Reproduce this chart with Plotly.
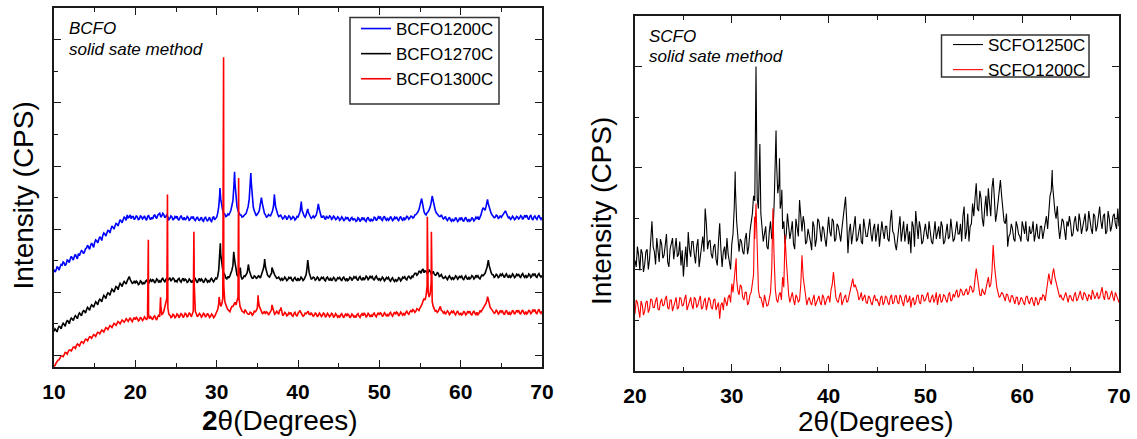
import numpy as np
import plotly.graph_objects as go

# ---------------- BCFO panel (2theta 10-70, arbitrary intensity units) -------------
bcfo_start, bcfo_stop, bcfo_step = 10.0, 70.0, 0.25

# readings on the 0.25-degree grid
bcfo1200_base = [
    2.72, 2.70, 2.78, 2.80,  2.86, 2.93, 2.90, 3.00,  3.05, 3.08, 3.13, 3.12,
    3.22, 3.25, 3.30, 3.28,  3.40, 3.43, 3.48, 3.50,  3.58, 3.63, 3.66, 3.72,
    3.80, 3.85, 3.88, 3.95,  4.00, 4.06, 4.10, 4.16,  4.20, 4.26, 4.30, 4.35,
    4.45, 4.38, 4.33, 4.40,  4.35, 4.38, 4.32, 4.40,  4.36, 4.33, 4.39, 4.35,
    4.37, 4.41, 4.38, 4.44,  4.50, 4.42, 4.46, 4.40,  4.38, 4.34, 4.39, 4.33,
    4.36, 4.32, 4.37, 4.35,  4.38, 4.33, 4.36, 4.31,  4.35, 4.30, 4.34, 4.31,
    4.33, 4.28, 4.34, 4.30,  4.32, 4.27, 4.35, 4.30,  4.38, 4.70, 4.95, 4.58,
    4.48, 4.42, 4.45, 4.60,  4.90, 5.45, 4.72, 4.52,  4.45, 4.40, 4.47, 4.58,
    4.95, 5.50, 4.70, 4.50,  4.48, 4.60, 5.00, 4.58,  4.45, 4.40, 4.43, 4.50,
    4.75, 4.70, 4.48, 4.42,  4.38, 4.35, 4.40, 4.36,  4.39, 4.34, 4.37, 4.33,
    4.38, 4.55, 4.60, 4.42,  4.45, 4.55, 4.40, 4.38,  4.36, 4.45, 4.80, 4.45,
    4.38, 4.36, 4.42, 4.35,  4.40, 4.34, 4.38, 4.32,  4.36, 4.31, 4.35, 4.30,
    4.33, 4.29, 4.34, 4.28,  4.32, 4.27, 4.33, 4.29,  4.31, 4.27, 4.34, 4.29,
    4.33, 4.28, 4.36, 4.31,  4.35, 4.30, 4.37, 4.32,  4.36, 4.31, 4.35, 4.30,
    4.34, 4.30, 4.36, 4.31,  4.37, 4.33, 4.38, 4.35,  4.40, 4.38, 4.46, 4.55,
    4.75, 4.90, 4.55, 4.45,  4.55, 4.70, 5.05, 4.70,  4.52, 4.45, 4.40, 4.38,
    4.35, 4.31, 4.34, 4.29,  4.33, 4.28, 4.32, 4.27,  4.31, 4.28, 4.33, 4.29,
    4.32, 4.28, 4.33, 4.30,  4.34, 4.30, 4.45, 4.68,  4.60, 4.85, 4.70, 4.50,
    4.42, 4.38, 4.42, 4.36,  4.38, 4.45, 4.58, 4.42,  4.38, 4.34, 4.37, 4.33,
    4.38, 4.35, 4.40, 4.36,  4.39, 4.35, 4.40, 4.34,  4.38, 4.35, 4.39, 4.36,
    4.37,
]
# readings half-way between grid points (x + 0.125)
bcfo1200_mid = [
    2.64, 2.80, 2.70, 2.88,  2.96, 2.84, 3.02, 2.94,  3.14, 3.02, 3.20, 3.06,
    3.16, 3.32, 3.22, 3.38,  3.49, 3.36, 3.56, 3.42,  3.66, 3.56, 3.76, 3.64,
    3.88, 3.78, 3.96, 3.88,  4.10, 4.00, 4.18, 4.10,  4.30, 4.20, 4.38, 4.28,
    4.36, 4.45, 4.40, 4.30,  4.43, 4.30, 4.42, 4.32,  4.42, 4.28, 4.44, 4.30,
    4.32, 4.46, 4.34, 4.48,  4.38, 4.50, 4.36, 4.45,  4.30, 4.42, 4.29, 4.40,
    4.41, 4.28, 4.43, 4.29,  4.29, 4.40, 4.28, 4.38,  4.40, 4.27, 4.39, 4.26,
    4.38, 4.25, 4.39, 4.25,  4.38, 4.24, 4.40, 4.33,  4.50, 5.10, 4.70, 4.50,
    4.40, 4.48, 4.52, 4.75,  5.40, 5.00, 4.58, 4.45,  4.38, 4.46, 4.50, 4.72,
    5.45, 5.05, 4.58, 4.42,  4.52, 4.75, 4.80, 4.50,  4.38, 4.46, 4.42, 4.58,
    5.00, 4.55, 4.40, 4.44,  4.32, 4.42, 4.30, 4.42,  4.31, 4.40, 4.29, 4.40,
    4.45, 4.80, 4.48, 4.38,  4.58, 4.45, 4.34, 4.42,  4.40, 4.60, 4.62, 4.38,
    4.43, 4.30, 4.36, 4.42,  4.31, 4.41, 4.30, 4.39,  4.28, 4.39, 4.26, 4.37,
    4.38, 4.25, 4.37, 4.33,  4.25, 4.36, 4.24, 4.37,  4.36, 4.24, 4.38, 4.26,
    4.26, 4.38, 4.27, 4.39,  4.40, 4.27, 4.41, 4.28,  4.28, 4.40, 4.27, 4.38,
    4.39, 4.27, 4.40, 4.28,  4.30, 4.42, 4.31, 4.41,  4.35, 4.45, 4.50, 4.62,
    4.88, 4.70, 4.48, 4.52,  4.62, 4.85, 4.90, 4.60,  4.48, 4.40, 4.45, 4.32,
    4.40, 4.27, 4.38, 4.25,  4.26, 4.37, 4.24, 4.36,  4.37, 4.24, 4.38, 4.25,
    4.25, 4.37, 4.26, 4.38,  4.38, 4.36, 4.58, 4.64,  4.72, 4.82, 4.58, 4.45,
    4.36, 4.44, 4.34, 4.43,  4.43, 4.52, 4.50, 4.36,  4.31, 4.41, 4.30, 4.40,
    4.32, 4.43, 4.31, 4.44,  4.44, 4.30, 4.45, 4.29,  4.42, 4.31, 4.44, 4.31,
]
bcfo1200_peak_x = [30.4, 32.2, 34.2, 37.1, 40.4, 41.2, 55.2, 63.3]
bcfo1200_peak_y = [5.30, 5.82, 5.78, 5.10, 4.87, 4.64, 4.97, 4.94]

bcfo1270_base = [
    0.76, 0.80, 0.86, 0.90,  0.95, 0.98, 1.04, 1.08,  1.12, 1.15, 1.20, 1.22,
    1.28, 1.30, 1.36, 1.40,  1.45, 1.48, 1.54, 1.57,  1.62, 1.66, 1.72, 1.75,
    1.82, 1.86, 1.92, 1.96,  2.02, 2.06, 2.10, 2.16,  2.20, 2.24, 2.28, 2.30,
    2.36, 2.50, 2.34, 2.30,  2.28, 2.32, 2.27, 2.33,  2.30, 2.35, 2.31, 2.36,
    2.33, 2.38, 2.34, 2.39,  2.36, 2.41, 2.37, 2.40,  2.38, 2.46, 2.39, 2.42,
    2.37, 2.41, 2.36, 2.40,  2.35, 2.39, 2.34, 2.38,  2.36, 2.40, 2.35, 2.39,
    2.34, 2.38, 2.35, 2.40,  2.36, 2.41, 2.37, 2.39,  2.42, 2.70, 3.20, 2.70,
    2.55, 2.42, 2.45, 2.60,  2.85, 2.95, 2.55, 2.62,  2.50, 2.45, 2.50, 2.62,
    2.70, 2.50, 2.45, 2.50,  2.46, 2.50, 2.55, 2.75,  2.80, 2.55, 2.48, 2.60,
    2.62, 2.50, 2.45, 2.42,  2.46, 2.41, 2.44, 2.40,  2.44, 2.39, 2.43, 2.40,
    2.45, 2.40, 2.44, 2.41,  2.55, 2.90, 2.50, 2.43,  2.46, 2.41, 2.45, 2.40,
    2.44, 2.39, 2.45, 2.41,  2.46, 2.40, 2.44, 2.39,  2.43, 2.40, 2.45, 2.41,
    2.44, 2.40, 2.46, 2.42,  2.45, 2.41, 2.46, 2.42,  2.47, 2.43, 2.48, 2.44,
    2.46, 2.42, 2.47, 2.43,  2.45, 2.41, 2.44, 2.40,  2.43, 2.39, 2.42, 2.38,
    2.42, 2.38, 2.44, 2.40,  2.45, 2.42, 2.48, 2.46,  2.52, 2.55, 2.60, 2.58,
    2.66, 2.70, 2.62, 2.66,  2.62, 2.67, 2.60, 2.58,  2.55, 2.60, 2.52, 2.48,
    2.46, 2.44, 2.48, 2.45,  2.48, 2.44, 2.49, 2.45,  2.47, 2.43, 2.48, 2.44,
    2.49, 2.45, 2.50, 2.46,  2.48, 2.45, 2.50, 2.52,  2.60, 2.80, 2.85, 2.62,
    2.55, 2.50, 2.54, 2.49,  2.53, 2.49, 2.54, 2.50,  2.55, 2.50, 2.54, 2.49,
    2.53, 2.50, 2.55, 2.51,  2.54, 2.50, 2.55, 2.51,  2.54, 2.50, 2.55, 2.52,
    2.53,
]
bcfo1270_mid = [
    0.84, 0.74, 0.92, 0.84,  1.02, 0.92, 1.10, 1.00,  1.18, 1.10, 1.26, 1.16,
    1.34, 1.25, 1.42, 1.34,  1.52, 1.43, 1.60, 1.52,  1.70, 1.60, 1.78, 1.70,
    1.90, 1.80, 1.98, 1.90,  2.10, 2.00, 2.18, 2.08,  2.28, 2.18, 2.34, 2.26,
    2.44, 2.40, 2.28, 2.36,  2.35, 2.24, 2.36, 2.25,  2.26, 2.38, 2.27, 2.40,
    2.40, 2.29, 2.42, 2.31,  2.32, 2.44, 2.33, 2.45,  2.44, 2.35, 2.45, 2.34,
    2.33, 2.44, 2.32, 2.44,  2.42, 2.31, 2.42, 2.31,  2.31, 2.43, 2.30, 2.44,
    2.42, 2.30, 2.43, 2.32,  2.32, 2.44, 2.33, 2.45,  2.50, 3.30, 2.90, 2.60,
    2.45, 2.50, 2.52, 2.70,  3.20, 2.70, 2.50, 2.70,  2.42, 2.52, 2.55, 2.82,
    2.58, 2.44, 2.52, 2.44,  2.52, 2.45, 2.62, 2.95,  2.65, 2.50, 2.55, 2.72,
    2.55, 2.44, 2.48, 2.38,  2.38, 2.48, 2.37, 2.47,  2.48, 2.36, 2.47, 2.36,
    2.38, 2.48, 2.37, 2.48,  2.80, 2.62, 2.42, 2.48,  2.38, 2.48, 2.36, 2.47,
    2.47, 2.36, 2.48, 2.37,  2.36, 2.47, 2.35, 2.46,  2.47, 2.36, 2.48, 2.37,
    2.37, 2.48, 2.37, 2.49,  2.49, 2.37, 2.50, 2.38,  2.40, 2.51, 2.40, 2.52,
    2.50, 2.38, 2.51, 2.39,  2.37, 2.48, 2.36, 2.47,  2.47, 2.35, 2.46, 2.34,
    2.35, 2.46, 2.36, 2.48,  2.49, 2.39, 2.51, 2.42,  2.48, 2.60, 2.54, 2.66,
    2.60, 2.74, 2.68, 2.60,  2.70, 2.58, 2.66, 2.54,  2.62, 2.50, 2.56, 2.44,
    2.50, 2.40, 2.52, 2.41,  2.41, 2.52, 2.41, 2.52,  2.51, 2.39, 2.52, 2.40,
    2.42, 2.53, 2.42, 2.54,  2.52, 2.42, 2.55, 2.56,  2.70, 2.98, 2.72, 2.56,
    2.47, 2.57, 2.46, 2.57,  2.58, 2.46, 2.58, 2.46,  2.47, 2.58, 2.46, 2.57,
    2.58, 2.47, 2.59, 2.47,  2.47, 2.58, 2.47, 2.59,  2.59, 2.47, 2.59, 2.48,
]
bcfo1270_peak_x = [30.45, 32.1, 32.9, 33.9, 35.9, 36.8, 41.2, 63.4]
bcfo1270_peak_y = [3.55, 3.28, 2.78, 2.88, 3.05, 2.78, 3.02, 3.02]

bcfo1300_base = [
    -0.35, -0.25, -0.15, -0.08,  -0.02, 0.02, 0.08, 0.12,  0.17, 0.20, 0.26, 0.30,
    0.33, 0.37, 0.42, 0.45,  0.50, 0.53, 0.58, 0.60,  0.64, 0.67, 0.72, 0.74,
    0.78, 0.81, 0.86, 0.88,  0.92, 0.95, 0.99, 1.01,  1.04, 1.06, 1.09, 1.10,
    1.12, 1.14, 1.11, 1.15,  1.13, 1.16, 1.12, 1.17,  1.14, 1.18, 1.20, 1.16,
    1.18, 1.22, 1.17, 1.23,  1.22, 1.30, 1.40, 1.70,  1.50, 1.28, 1.22, 1.27,
    1.23, 1.28, 1.24, 1.29,  1.25, 1.30, 1.26, 1.31,  1.30, 2.20, 1.32, 1.27,
    1.29, 1.25, 1.30, 1.26,  1.28, 1.24, 1.27, 1.23,  1.35, 1.62, 1.55, 1.80,
    1.70, 1.52, 1.42, 1.48,  1.55, 1.68, 1.75, 1.80,  1.45, 1.38, 1.45, 1.33,
    1.30, 1.35, 1.31, 1.38,  1.50, 1.55, 1.40, 1.34,  1.31, 1.36, 1.33, 1.45,
    1.40, 1.33, 1.36, 1.45,  1.35, 1.29, 1.33, 1.28,  1.31, 1.26, 1.32, 1.28,
    1.33, 1.42, 1.30, 1.27,  1.32, 1.40, 1.29, 1.31,  1.27, 1.31, 1.26, 1.30,
    1.27, 1.31, 1.25, 1.29,  1.26, 1.30, 1.24, 1.28,  1.25, 1.29, 1.24, 1.27,
    1.24, 1.28, 1.23, 1.27,  1.25, 1.29, 1.24, 1.28,  1.26, 1.30, 1.25, 1.29,
    1.27, 1.31, 1.26, 1.30,  1.28, 1.32, 1.27, 1.31,  1.29, 1.33, 1.28, 1.32,
    1.30, 1.34, 1.29, 1.33,  1.32, 1.36, 1.33, 1.38,  1.37, 1.42, 1.40, 1.46,
    1.50, 1.62, 1.80, 1.90,  2.00, 1.95, 1.70, 1.45,  1.42, 1.40, 1.55, 1.40,
    1.38, 1.34, 1.37, 1.33,  1.36, 1.32, 1.36, 1.33,  1.35, 1.31, 1.36, 1.32,
    1.35, 1.31, 1.36, 1.33,  1.36, 1.33, 1.38, 1.48,  1.58, 1.75, 1.62, 1.48,
    1.40, 1.36, 1.39, 1.34,  1.37, 1.33, 1.38, 1.34,  1.38, 1.33, 1.39, 1.35,
    1.38, 1.34, 1.40, 1.35,  1.39, 1.35, 1.40, 1.36,  1.40, 1.35, 1.41, 1.37,
    1.40,
]
bcfo1300_mid = [
    -0.32, -0.18, -0.14, -0.02,  -0.04, 0.09, 0.04, 0.17,  0.14, 0.26, 0.22, 0.36,
    0.30, 0.43, 0.38, 0.51,  0.46, 0.59, 0.54, 0.66,  0.60, 0.73, 0.68, 0.80,
    0.74, 0.88, 0.82, 0.94,  0.88, 1.01, 0.95, 1.07,  1.00, 1.12, 1.05, 1.16,
    1.08, 1.19, 1.07, 1.20,  1.20, 1.09, 1.21, 1.10,  1.22, 1.12, 1.30, 1.22,
    1.13, 1.25, 1.12, 1.27,  1.60, 1.32, 1.55, 1.80,  1.30, 1.20, 1.30, 1.19,
    1.31, 1.19, 1.32, 1.20,  1.33, 1.21, 1.34, 1.22,  1.40, 1.40, 1.22, 1.33,
    1.21, 1.33, 1.21, 1.33,  1.20, 1.31, 1.19, 1.30,  1.45, 1.70, 1.62, 2.20,
    1.58, 1.45, 1.38, 1.55,  1.62, 1.60, 1.85, 1.55,  1.40, 1.35, 1.38, 1.30,
    1.37, 1.27, 1.40, 1.42,  1.75, 1.45, 1.32, 1.40,  1.38, 1.28, 1.40, 1.52,
    1.30, 1.40, 1.30, 1.42,  1.26, 1.36, 1.25, 1.35,  1.36, 1.24, 1.36, 1.24,
    1.36, 1.34, 1.24, 1.34,  1.38, 1.30, 1.35, 1.24,  1.34, 1.22, 1.34, 1.23,
    1.34, 1.21, 1.33, 1.22,  1.33, 1.20, 1.32, 1.21,  1.20, 1.32, 1.19, 1.31,
    1.31, 1.19, 1.31, 1.20,  1.20, 1.32, 1.20, 1.32,  1.33, 1.21, 1.33, 1.22,
    1.22, 1.34, 1.22, 1.35,  1.35, 1.23, 1.35, 1.24,  1.24, 1.36, 1.24, 1.37,
    1.37, 1.25, 1.37, 1.27,  1.28, 1.40, 1.30, 1.42,  1.45, 1.36, 1.48, 1.42,
    1.55, 1.72, 1.75, 2.20,  1.85, 2.30, 1.55, 1.40,  1.36, 1.48, 1.42, 1.34,
    1.30, 1.41, 1.29, 1.40,  1.40, 1.28, 1.41, 1.28,  1.28, 1.40, 1.28, 1.40,
    1.40, 1.27, 1.41, 1.29,  1.29, 1.42, 1.43, 1.52,  1.65, 1.80, 1.52, 1.42,
    1.33, 1.43, 1.31, 1.42,  1.42, 1.29, 1.43, 1.29,  1.30, 1.43, 1.30, 1.43,
    1.43, 1.30, 1.44, 1.31,  1.31, 1.44, 1.32, 1.45,  1.45, 1.32, 1.46, 1.33,
]
bcfo1300_peak_x = [21.6, 23.1, 23.95, 27.2, 30.3, 30.85, 32.7, 35.1, 36.8, 37.9, 55.9, 56.4, 63.3]
bcfo1300_peak_y = [3.66, 1.84, 5.10, 3.92, 1.85, 9.45, 5.62, 1.90, 1.60, 1.52, 4.39, 3.92, 1.86]

# ---------------- SCFO panel (2theta 20-70) ----------------
scfo_start, scfo_stop, scfo_step = 20.0, 70.0, 0.25

scfo1250_base = [
    1.18, 1.45, 0.98, 1.32,  1.10, 1.40, 1.20, 1.95,  1.35, 1.62, 1.15, 1.50,
    1.28, 1.70, 1.05, 1.55,  1.20, 1.62, 1.30, 1.08,  0.86, 1.45, 1.74, 1.25,
    1.55, 1.12, 1.60, 1.30,  1.65, 2.20, 1.40, 1.58,  1.22, 1.50, 1.08, 1.91,
    1.05, 1.45, 1.62, 1.15,  1.50, 2.20, 1.95, 1.35,  1.55, 1.30, 1.72, 1.45,
    1.90, 2.45, 5.00, 2.20,  2.10, 1.55, 1.85, 1.40,  1.95, 1.70, 3.30, 2.50,
    2.20, 1.80, 1.50, 2.10,  1.60, 1.95, 1.40, 1.85,  2.37, 1.75, 1.90, 1.55,
    1.70, 1.38, 1.85, 1.60,  1.95, 1.55, 1.80, 1.45,  2.04, 1.65, 1.95, 1.60,
    1.85, 1.55, 2.00, 2.43,  1.32, 1.90, 1.70, 2.05,  1.60, 1.90, 1.50, 1.80,
    1.65, 2.00, 1.55, 1.90,  1.70, 1.45, 1.95, 1.60,  1.85, 1.55, 2.17, 1.70,
    1.38, 1.80, 1.55, 1.95,  1.70, 1.50, 1.32, 1.85,  2.15, 1.60, 1.80, 1.55,
    1.90, 1.60, 1.75, 1.50,  1.95, 1.70, 1.60, 1.85,  1.55, 1.90, 1.65, 1.80,
    1.60, 1.95, 1.70, 1.55,  2.24, 1.75, 1.55, 1.90,  2.05, 2.70, 2.15, 2.40,
    1.85, 2.45, 2.60, 2.05,  2.80, 1.94, 2.30, 2.76,  2.25, 1.90, 1.45, 1.70,
    1.80, 1.55, 1.85, 1.65,  1.95, 1.70, 1.60, 1.85,  1.75, 1.55, 1.90, 1.60,
    1.85, 1.75, 2.05, 2.20,  2.55, 2.40, 2.00, 1.85,  1.80, 1.95, 1.58, 1.85,
    1.90, 1.70, 2.05, 1.75,  1.95, 1.85, 2.10, 1.80,  1.95, 1.70, 2.05, 1.85,
    2.24, 1.80, 2.10, 1.75,  2.00, 1.85, 2.10, 1.80,
    1.85,
]
scfo1250_mid = [
    1.05, 1.28, 1.40, 0.95,  1.35, 1.00, 1.55, 1.45,  1.10, 1.38, 1.60, 1.22,
    1.48, 1.15, 1.40, 1.62,  1.45, 1.25, 1.55, 1.38,  1.20, 1.05, 1.40, 1.55,
    1.30, 1.45, 1.05, 1.48,  1.35, 1.90, 1.55, 1.30,  1.45, 1.20, 1.55, 1.40,
    1.35, 1.20, 1.30, 1.00,  1.70, 2.60, 1.55, 1.60,  1.35, 1.60, 1.30, 1.75,
    2.10, 2.35, 2.40, 3.10,  1.80, 1.70, 1.45, 1.75,  1.60, 2.30, 3.10, 2.70,
    2.35, 1.95, 1.70, 1.85,  1.75, 1.50, 2.00, 1.65,  1.95, 2.05, 1.50, 1.80,
    1.55, 1.95, 1.45, 2.00,  1.70, 1.85, 1.60, 1.75,  1.75, 2.00, 1.55, 1.90,
    1.70, 1.80, 2.20, 1.95,  1.75, 1.50, 1.90, 1.55,  1.75, 1.55, 2.00, 1.65,
    1.85, 1.70, 1.80, 1.55,  1.90, 1.65, 1.75, 1.85,  1.60, 1.95, 1.75, 1.50,
    1.60, 2.05, 1.75, 1.55,  1.90, 1.75, 1.95, 1.45,  1.80, 1.95, 1.50, 1.75,
    1.70, 1.95, 1.55, 1.80,  1.60, 1.85, 1.95, 1.50,  1.75, 1.60, 2.00, 1.55,
    1.85, 1.70, 1.90, 2.05,  1.60, 2.10, 1.85, 2.30,  2.40, 2.20, 2.55, 2.00,
    2.20, 2.05, 2.30, 2.60,  2.40, 2.10, 2.55, 2.45,  1.95, 2.10, 1.65, 1.90,
    1.60, 1.95, 1.70, 1.55,  1.80, 1.95, 1.55, 1.70,  1.95, 1.70, 1.65, 1.85,
    1.60, 1.95, 1.80, 2.45,  2.70, 2.15, 2.25, 1.60,  2.00, 1.70, 1.95, 2.05,
    1.65, 1.95, 1.80, 2.10,  1.70, 2.00, 1.75, 2.15,  1.80, 2.10, 1.75, 2.00,
    1.95, 2.05, 1.70, 2.15,  1.75, 2.05, 1.90, 2.20,
]
scfo1250_peak_x = [30.35, 32.9, 34.57, 34.93, 35.17, 63.1]
scfo1250_peak_y = [2.93, 3.47, 3.74, 3.19, 2.57, 2.96]

scfo1200_base = [
    0.13, 0.35, 0.05, 0.30,  0.18, 0.38, 0.22, 0.40,  0.25, 0.45, 0.20, 0.42,
    0.30, 0.48, 0.22, 0.40,  0.28, 0.45, 0.25, 0.43,  0.30, 0.50, 0.28, 0.45,
    0.22, 0.42, 0.30, 0.48,  0.25, 0.44, 0.30, 0.40,  0.22, 0.42, 0.28, 0.03,
    0.35, 0.45, 0.28, 0.50,  0.72, 0.85, 0.80, 0.50,  0.66, 0.40, 0.55, 0.35,
    0.55, 0.90, 2.30, 0.60,  0.45, 0.25, 0.40, 0.30,  0.55, 2.20, 0.60, 0.35,
    0.55, 0.85, 1.68, 0.75,  0.35, 0.55, 0.30, 0.45,  0.40, 1.28, 0.65, 0.30,
    0.45, 0.30, 0.50, 0.35,  0.48, 0.30, 0.45, 0.38,  0.48, 0.60, 0.95, 0.45,
    0.35, 0.55, 0.40, 0.50,  0.38, 0.62, 0.82, 0.70,  0.55, 0.45, 0.38, 0.50,
    0.33, 0.45, 0.30, 0.50,  0.42, 0.28, 0.48, 0.35,  0.45, 0.30, 0.50, 0.35,
    0.48, 0.32, 0.45, 0.28,  0.50, 0.38, 0.25, 0.45,  0.35, 0.50, 0.32, 0.48,
    0.40, 0.55, 0.35, 0.50,  0.42, 0.30, 0.52, 0.38,  0.48, 0.35, 0.55, 0.40,
    0.45, 0.60, 0.48, 0.58,  0.50, 0.62, 0.55, 0.65,  0.58, 1.02, 0.62, 0.48,
    0.55, 0.62, 0.85, 0.70,  1.48, 0.80, 0.55, 0.48,  0.52, 0.38, 0.50, 0.35,
    0.48, 0.32, 0.45, 0.35,  0.42, 0.30, 0.48, 0.32,  0.45, 0.28, 0.42, 0.35,
    0.40, 0.48, 0.60, 0.92,  0.70, 1.02, 0.75, 0.55,  0.50, 0.40, 0.55, 0.35,
    0.48, 0.38, 0.55, 0.42,  0.58, 0.40, 0.52, 0.38,  0.48, 0.60, 0.42, 0.55,
    0.45, 0.65, 0.40, 0.55,  0.42, 0.58, 0.38, 0.50,
    0.35,
]
scfo1200_mid = [
    0.40, 0.18, 0.38, 0.10,  0.35, 0.15, 0.42, 0.25,  0.38, 0.22, 0.35, 0.28,
    0.42, 0.25, 0.40, 0.18,  0.40, 0.22, 0.45, 0.28,  0.42, 0.20, 0.40, 0.30,
    0.45, 0.25, 0.40, 0.22,  0.38, 0.20, 0.45, 0.25,  0.40, 0.20, 0.35, 0.30,
    0.20, 0.38, 0.45, 0.35,  0.55, 1.00, 0.58, 0.70,  0.45, 0.55, 0.30, 0.50,
    0.70, 1.60, 1.20, 0.45,  0.35, 0.50, 0.28, 0.45,  1.00, 1.20, 0.40, 0.50,
    0.40, 0.65, 1.20, 0.50,  0.45, 0.40, 0.50, 0.35,  0.70, 0.85, 0.45, 0.40,
    0.35, 0.42, 0.28, 0.45,  0.35, 0.50, 0.30, 0.45,  0.35, 0.70, 0.65, 0.38,
    0.48, 0.30, 0.45, 0.35,  0.50, 0.72, 0.65, 0.62,  0.40, 0.55, 0.45, 0.35,
    0.48, 0.35, 0.42, 0.38,  0.35, 0.45, 0.30, 0.48,  0.35, 0.45, 0.32, 0.48,
    0.35, 0.50, 0.35, 0.45,  0.35, 0.48, 0.40, 0.30,  0.48, 0.35, 0.50, 0.38,
    0.48, 0.38, 0.45, 0.35,  0.55, 0.45, 0.35, 0.50,  0.40, 0.50, 0.38, 0.52,
    0.55, 0.45, 0.62, 0.50,  0.58, 0.50, 0.68, 0.55,  0.80, 0.85, 0.50, 0.62,
    0.50, 0.72, 0.65, 0.95,  1.10, 0.65, 0.45, 0.55,  0.45, 0.52, 0.40, 0.48,
    0.40, 0.45, 0.30, 0.45,  0.35, 0.45, 0.38, 0.42,  0.35, 0.45, 0.30, 0.45,
    0.50, 0.38, 0.70, 0.78,  0.90, 0.85, 0.62, 0.45,  0.42, 0.50, 0.45, 0.48,
    0.40, 0.50, 0.38, 0.50,  0.45, 0.55, 0.45, 0.50,  0.40, 0.52, 0.48, 0.42,
    0.55, 0.48, 0.58, 0.42,  0.50, 0.45, 0.55, 0.42,
]
scfo1200_peak_x = [30.45, 32.35]
scfo1200_peak_y = [1.22, 2.04]


def combine(start, stop, step, base, px, py, mid=None):
    grid = np.round(np.arange(start, stop + step / 2, step), 3)
    assert len(grid) == len(base), (len(grid), len(base))
    pts = {float(g): v for g, v in zip(grid, base)}
    if mid is not None:
        assert len(mid) == len(grid) - 1, (len(mid), len(grid) - 1)
        for g, v in zip(grid[:-1] + step / 2, mid):
            pts[round(float(g), 3)] = v
    for x, y in zip(px, py):
        pts[round(x, 3)] = y
    xs = sorted(pts)
    return xs, [pts[x] for x in xs]


FONT = "Liberation Sans, Arial, sans-serif"
W, H = 1137, 439

fig = go.Figure()

left_series = [
    ("BCFO1200C", "#0000FF", bcfo1200_base, bcfo1200_mid, bcfo1200_peak_x, bcfo1200_peak_y),
    ("BCFO1270C", "#000000", bcfo1270_base, bcfo1270_mid, bcfo1270_peak_x, bcfo1270_peak_y),
    ("BCFO1300C", "#FF0000", bcfo1300_base, bcfo1300_mid, bcfo1300_peak_x, bcfo1300_peak_y),
]
for name, col, base, mid, px, py in left_series:
    xs, ys = combine(bcfo_start, bcfo_stop, bcfo_step, base, px, py, mid)
    fig.add_trace(go.Scatter(x=xs, y=ys, mode="lines", name=name,
                             line=dict(color=col, width=1.6),
                             xaxis="x", yaxis="y", legend="legend"))

right_series = [
    ("SCFO1250C", "#000000", scfo1250_base, scfo1250_mid, scfo1250_peak_x, scfo1250_peak_y),
    ("SCFO1200C", "#FF0000", scfo1200_base, scfo1200_mid, scfo1200_peak_x, scfo1200_peak_y),
]
for name, col, base, mid, px, py in right_series:
    xs, ys = combine(scfo_start, scfo_stop, scfo_step, base, px, py, mid)
    fig.add_trace(go.Scatter(x=xs, y=ys, mode="lines", name=name,
                             line=dict(color=col, width=1.1),
                             xaxis="x2", yaxis="y2", legend="legend2"))


def xaxis_style(domain, rng, anchor):
    return dict(domain=domain, range=rng, anchor=anchor, showgrid=False, zeroline=False,
                showline=True, linecolor="#1a1a1a", linewidth=1.6, mirror="ticks",
                ticks="inside", ticklen=7, tickwidth=1.3, tickcolor="#1a1a1a",
                dtick=10, tick0=0,
                minor=dict(dtick=5, tick0=0, ticks="inside", ticklen=4, tickwidth=1.2,
                           tickcolor="#1a1a1a"),
                tickfont=dict(family=FONT, size=21, color="black", weight="bold"),
                ticklabelstandoff=5)


def yaxis_style(domain, rng, anchor, t0):
    return dict(domain=domain, range=rng, anchor=anchor, showgrid=False, zeroline=False,
                showline=True, linecolor="#1a1a1a", linewidth=1.6, mirror="ticks",
                ticks="inside", ticklen=7, tickwidth=1.3, tickcolor="#1a1a1a",
                dtick=2, tick0=t0, showticklabels=False,
                minor=dict(dtick=1, tick0=0, ticks="inside", ticklen=4, tickwidth=1.2,
                           tickcolor="#1a1a1a"))


fig.update_layout(
    width=W, height=H,
    margin=dict(l=0, r=0, t=0, b=0, autoexpand=False),
    paper_bgcolor="white", plot_bgcolor="white",
    font=dict(family=FONT, color="black"),
    showlegend=True,
    xaxis=xaxis_style([54 / W, 542 / W], [10, 70], "y"),
    yaxis=yaxis_style([1 - 367 / H, 1 - 8.3 / H], [-0.37, 11.0], "x", 0),
    xaxis2=xaxis_style([635 / W, 1119 / W], [20, 70], "y2"),
    yaxis2=yaxis_style([1 - 371 / H, 1 - 15.7 / H], [-1.0, 6.0], "x2", 1),
    legend=dict(x=356 / W, y=1 - 11 / H, xanchor="left", yanchor="top",
                bgcolor="rgba(0,0,0,0)", borderwidth=0, tracegroupgap=0,
                font=dict(family=FONT, size=17, color="black")),
    legend2=dict(x=948 / W, y=1 - 27 / H, xanchor="left", yanchor="top",
                 bgcolor="rgba(0,0,0,0)", borderwidth=0, tracegroupgap=0,
                 font=dict(family=FONT, size=17, color="black")),
    shapes=[
        dict(type="rect", xref="paper", yref="paper",
             x0=350 / W, x1=499 / W, y0=1 - 104 / H, y1=1 - 17.5 / H,
             line=dict(color="#333333", width=1.5)),
        dict(type="rect", xref="paper", yref="paper",
             x0=941.5 / W, x1=1089 / W, y0=1 - 77 / H, y1=1 - 35 / H,
             line=dict(color="#333333", width=1.5)),
    ],
)

annots = [
    dict(text="BCFO", x=67 / W, y=1 - 28 / H, xanchor="left", yanchor="middle",
         font=dict(size=17, style="italic")),
    dict(text="solid sate method", x=67 / W, y=1 - 49 / H, xanchor="left", yanchor="middle",
         font=dict(size=17, style="italic")),
    dict(text="SCFO", x=647 / W, y=1 - 36 / H, xanchor="left", yanchor="middle",
         font=dict(size=17, style="italic")),
    dict(text="solid sate method", x=647 / W, y=1 - 57 / H, xanchor="left", yanchor="middle",
         font=dict(size=17, style="italic")),
    dict(text="<b>2</b>θ(Degrees)", x=280 / W, y=1 - 420 / H, xanchor="center",
         yanchor="middle", font=dict(size=28)),
    dict(text="2θ(Degrees)", x=876 / W, y=1 - 421 / H, xanchor="center",
         yanchor="middle", font=dict(size=28)),
    dict(text="Intensity (CPS)", x=22.5 / W, y=1 - 196 / H, xanchor="center",
         yanchor="middle", textangle=-90, font=dict(size=28)),
    dict(text="Intensity (CPS)", x=601 / W, y=1 - 211 / H, xanchor="center",
         yanchor="middle", textangle=-90, font=dict(size=28)),
]
for a in annots:
    a.update(xref="paper", yref="paper", showarrow=False)
    a["font"].update(family=FONT, color="black")
fig.update_layout(annotations=annots)

fig.write_html("out.html")
